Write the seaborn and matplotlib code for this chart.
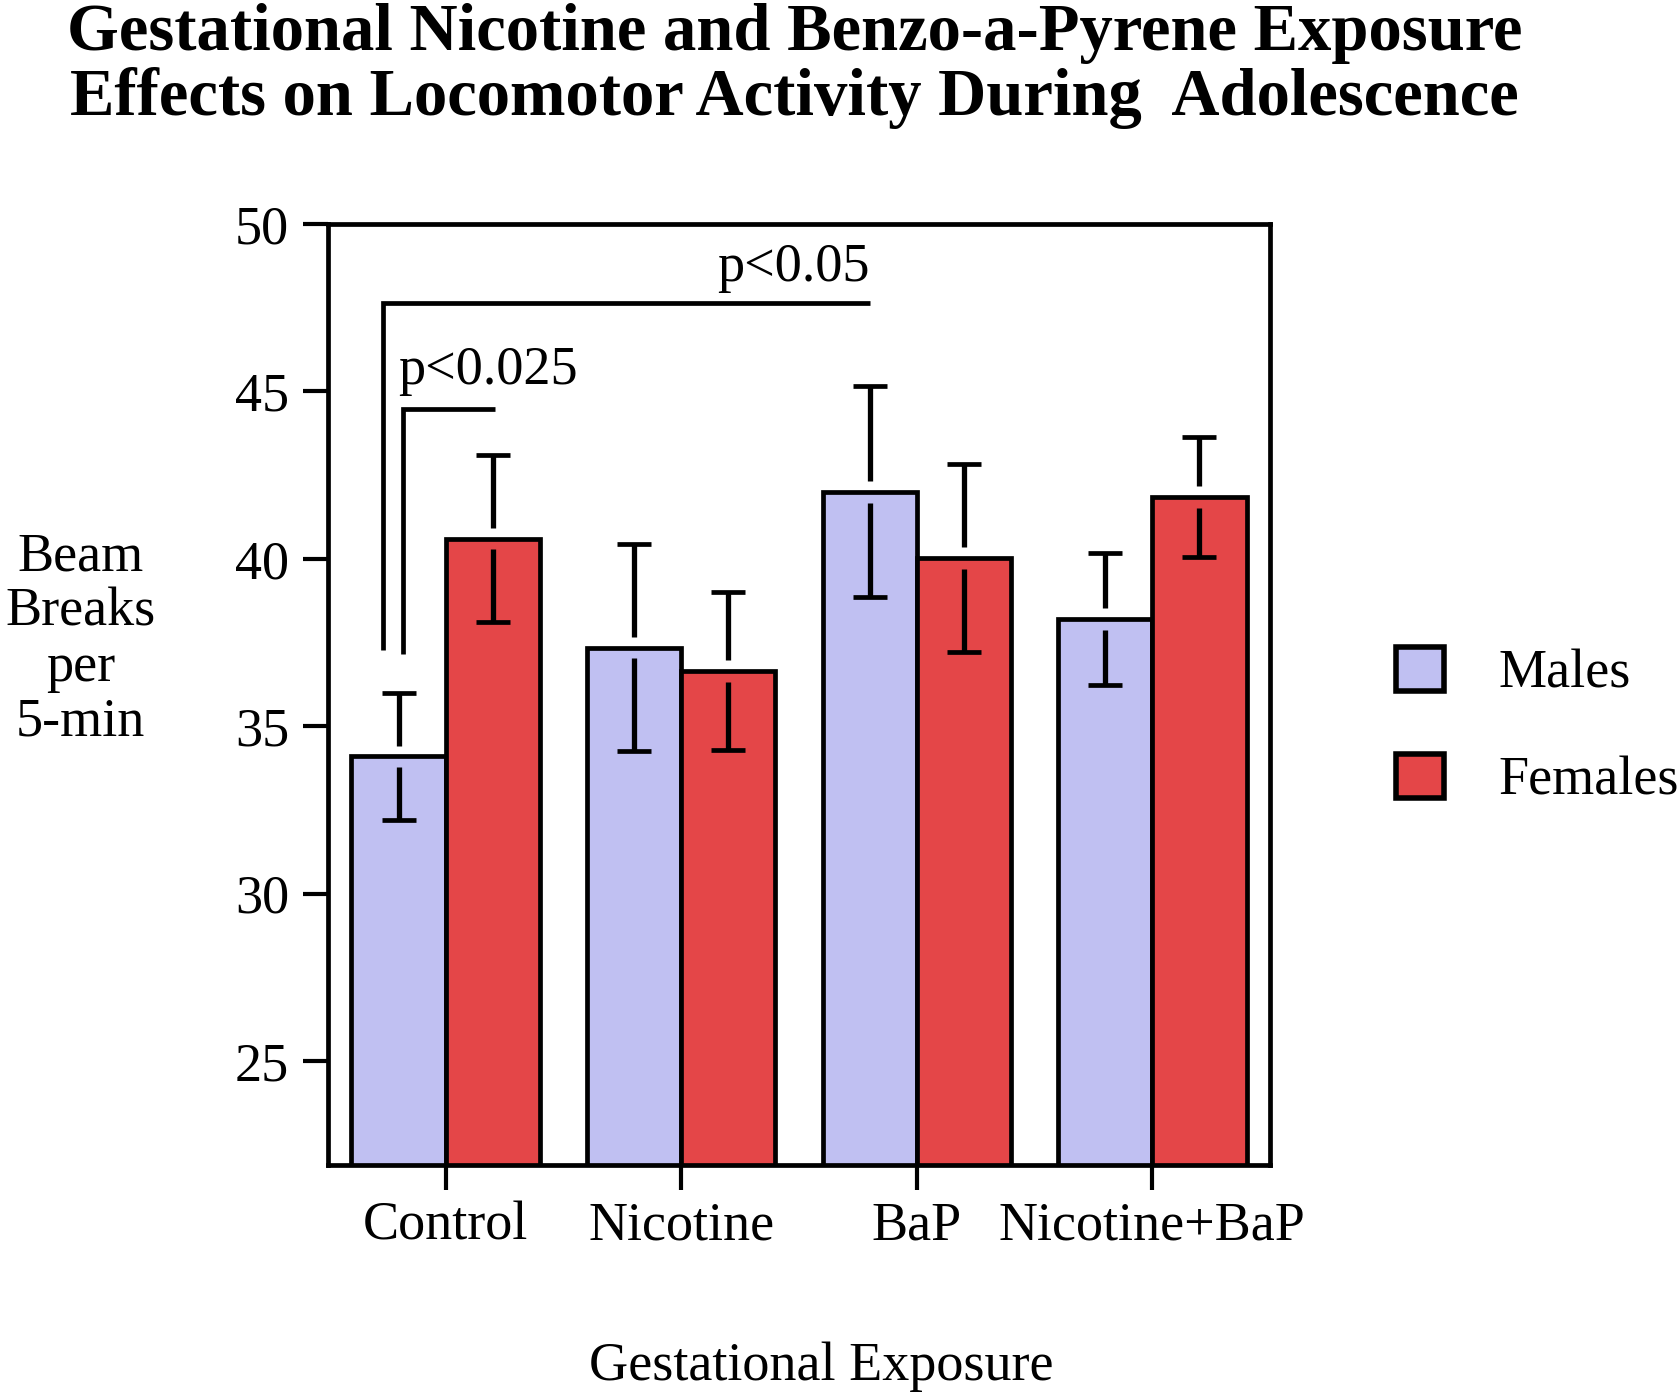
import matplotlib
matplotlib.use("Agg")
from matplotlib import pyplot as plt
import seaborn as sns
import pandas as pd

exposures = ['Control', 'Nicotine', 'BaP', 'Nicotine+BaP']
sexes = ['Males', 'Females']
male_means = [34.1, 37.35, 42.0, 38.2]
male_err = [1.9, 3.1, 3.15, 1.97]
female_means = [40.6, 36.65, 40.03, 41.85]
female_err = [2.5, 2.35, 2.8, 1.8]

sig_labels = ['p<0.05', 'p<0.025']

palette = ['#C0C0F2', '#E44648']
FS = 39


def make_plot():
    data = pd.DataFrame({
        'Exposure': exposures * 2,
        'Sex': ['Males'] * 4 + ['Females'] * 4,
        'Mean': male_means + female_means,
        'Err': male_err + female_err,
    })

    sns.set_theme(style='ticks')
    plt.rcParams['font.family'] = ['Liberation Serif', 'DejaVu Serif']
    plt.rcParams['text.color'] = 'black'

    fig = plt.figure(figsize=(16.8, 14), dpi=100)
    ax = fig.add_axes([0.1952, 0.168, 0.756 - 0.1952, 0.840 - 0.168])

    sns.barplot(data=data, x='Exposure', y='Mean', hue='Sex', hue_order=sexes,
                order=exposures, palette=palette, edgecolor='black',
                linewidth=3.4, width=0.8, errorbar=None, saturation=1, ax=ax)

    # error bars, with a small gap where they cross the bar top
    gap = 0.32
    elw = 3.8
    bars = [p for p in ax.patches if p.get_height() > 0][:8]
    for bar in bars:
        xc = bar.get_x() + bar.get_width() / 2
        v = bar.get_height()
        row = data[(data['Mean'] - v).abs() < 1e-9].iloc[0]
        e = row['Err']
        cont = ax.errorbar([xc], [v], yerr=[e], fmt='none', ecolor='black',
                           elinewidth=elw, capsize=12, capthick=3.4, zorder=5)
        cont.lines[2][0].set_visible(False)
        ax.vlines([xc, xc], [v + gap, v - e], [v + e, v - gap], color='black',
                  lw=elw, zorder=5)

    # significance brackets
    lw = 3.4
    ax.plot([-0.267, -0.267, 1.803], [37.27, 47.63, 47.63], color='black',
            lw=lw, solid_joinstyle='miter', solid_capstyle='butt', zorder=6)
    ax.plot([-0.182, -0.182, 0.208], [37.16, 44.46, 44.46], color='black',
            lw=lw, solid_joinstyle='miter', solid_capstyle='butt', zorder=6)
    ax.text(1.8, 47.95, sig_labels[0], ha='right', va='bottom', fontsize=FS)
    ax.text(-0.2, 44.85, sig_labels[1], ha='left', va='bottom', fontsize=FS)

    ax.set_ylim(21.9, 50)
    ax.set_xlim(-0.5, 3.5)
    ax.set_yticks([25, 30, 35, 40, 45, 50])
    ax.tick_params(axis='both', labelsize=FS, length=18, width=3.0,
                   color='black', labelcolor='black')
    ax.tick_params(axis='y', pad=10)
    ax.tick_params(axis='x', pad=8)
    for s in ax.spines.values():
        s.set_visible(True)
        s.set_linewidth(3.4)
        s.set_color('black')
    ax.set_xlabel('')
    ax.set_ylabel('')

    handles, labels = ax.get_legend_handles_labels()
    for h in handles:
        h.set_edgecolor('black')
        h.set_linewidth(4)
    ax.legend(handles, labels, loc='center left', bbox_to_anchor=(0.831, 0.481),
              bbox_transform=fig.transFigure, frameon=False, fontsize=FS,
              borderpad=0, borderaxespad=0, handlelength=0.89,
              handleheight=0.89, handletextpad=1.0, labelspacing=1.0)

    fig.text(0.048, 0.543, 'Beam\nBreaks\nper\n5-min', ha='center', va='center',
             fontsize=FS, linespacing=1.12)
    fig.text(0.489, 0.024, 'Gestational Exposure', ha='center', va='center',
             fontsize=FS)
    fig.text(0.473, 0.998, 'Gestational Nicotine and Benzo-a-Pyrene Exposure\n'
             'Effects on Locomotor Activity During  Adolescence',
             ha='center', va='top', fontsize=48, fontweight='bold',
             linespacing=1.07)


def save_plot_as(filename):
    make_plot()
    plt.savefig(filename, dpi=100)
    plt.close()


if __name__ == '__main__':
    save_plot_as('out.png')
